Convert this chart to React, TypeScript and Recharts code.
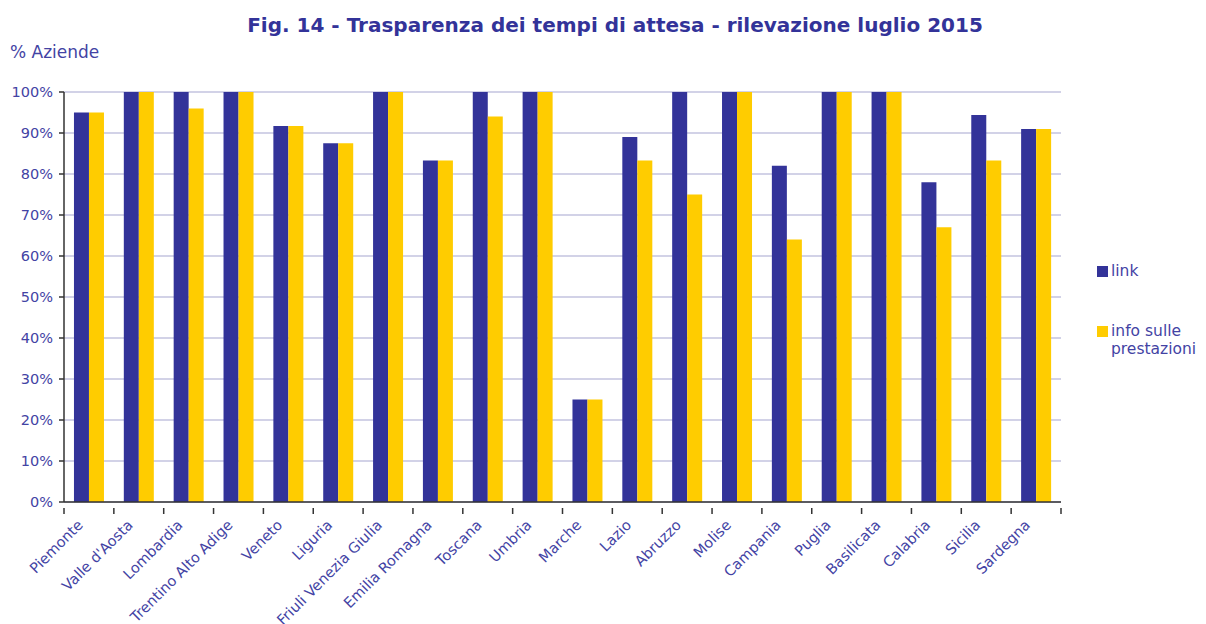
import React from 'react';
import { BarChart, Bar, XAxis, YAxis, CartesianGrid } from 'recharts';

const categories = [
  'Piemonte', "Valle d'Aosta", 'Lombardia', 'Trentino Alto Adige', 'Veneto', 'Liguria',
  'Friuli Venezia Giulia', 'Emilia Romagna', 'Toscana', 'Umbria', 'Marche', 'Lazio',
  'Abruzzo', 'Molise', 'Campania', 'Puglia', 'Basilicata', 'Calabria', 'Sicilia', 'Sardegna',
];
const linkValues = [95, 100, 100, 100, 91.7, 87.5, 100, 83.3, 100, 100, 25, 89, 100, 100, 82, 100, 100, 78, 94.4, 91];
const infoValues = [95, 100, 96, 100, 91.7, 87.5, 100, 83.3, 94, 100, 25, 83.3, 75, 100, 64, 100, 100, 67, 83.3, 91];
const yTicks = [0, 10, 20, 30, 40, 50, 60, 70, 80, 90, 100];
const seriesNames = ['link', 'info sulle prestazioni'];

const data = categories.map((name, i) => ({ name, link: linkValues[i], info: infoValues[i] }));

const TEXT = '#333399';
const TICKTEXT = '#4343a4';
const FONT = '"DejaVu Sans", Verdana, sans-serif';

const XTick = (props: any) => {
  const { x, y, payload, index, width, visibleTicksCount } = props;
  const step = width / visibleTicksCount;
  const left = x - step / 2;
  const tx = x - 5;
  const ty = y + 16;
  return (
    <g>
      <line x1={left} y1={y - 2} x2={left} y2={y + 4} stroke="#333" strokeWidth={1.5} />
      {index === visibleTicksCount - 1 && (
        <line x1={left + step} y1={y - 2} x2={left + step} y2={y + 4} stroke="#333" strokeWidth={1.5} />
      )}
      <text
        x={tx}
        y={ty}
        textAnchor="end"
        fill={TICKTEXT}
        fontSize={14.5}
        fontFamily={FONT}
        transform={`rotate(-45, ${tx}, ${ty})`}
      >
        {payload.value}
      </text>
    </g>
  );
};

export default function App() {
  return (
    <div style={{ position: 'absolute', left: 0, top: 0, width: 1206, height: 624, background: '#fff', fontFamily: FONT }}>
      <div style={{ position: 'absolute', left: 0, width: 1230, top: 13, textAlign: 'center', color: TEXT, fontWeight: 'bold', fontSize: 20, fontFamily: FONT }}>
        Fig. 14 - Trasparenza dei tempi di attesa - rilevazione luglio 2015
      </div>
      <div style={{ position: 'absolute', left: 10, top: 42, color: TICKTEXT, fontSize: 17, fontFamily: FONT }}>% Aziende</div>
      <div style={{ position: 'absolute', left: 1097, top: 262, color: TICKTEXT, fontSize: 15.5, fontFamily: FONT, lineHeight: '18px' }}>
        <div style={{ position: 'relative', paddingLeft: 14 }}>
          <span style={{ position: 'absolute', left: 0, top: 4, width: 11, height: 11, background: '#333399' }} />
          {seriesNames[0]}
        </div>
        <div style={{ position: 'relative', paddingLeft: 14, marginTop: 42, width: 110 }}>
          <span style={{ position: 'absolute', left: 0, top: 4, width: 11, height: 11, background: '#FFCC00' }} />
          info sulle<br />prestazioni
        </div>
      </div>
      <BarChart
        width={1206}
        height={624}
        data={data}
        margin={{ top: 92, right: 145, bottom: 10, left: 6 }}
        barCategoryGap="20%"
        barGap={0}
      >
        <CartesianGrid vertical={false} stroke="#a6a6cf" strokeWidth={1.2} />
        <XAxis
          dataKey="name"
          interval={0}
          tickLine={false}
          axisLine={{ stroke: '#333', strokeWidth: 1.5 }}
          tick={<XTick />}
          height={112}
        />
        <YAxis
          domain={[0, 100]}
          ticks={yTicks}
          tickFormatter={(v: number) => `${v}%`}
          width={58}
          tickSize={5}
          tickMargin={6}
          interval={0}
          axisLine={{ stroke: '#333', strokeWidth: 1.5 }}
          tickLine={{ stroke: '#333', strokeWidth: 1.5 }}
          tick={{ fill: TICKTEXT, fontSize: 14.5, fontFamily: FONT }}
        />
        <YAxis
          yAxisId="r"
          orientation="right"
          domain={[0, 100]}
          width={0}
          tick={false}
          tickLine={false}
          axisLine={{ stroke: '#c8c8dc', strokeWidth: 1.5 }}
        />
        <Bar dataKey="link" name={seriesNames[0]} fill="#333399" isAnimationActive={false} />
        <Bar dataKey="info" name={seriesNames[1]} fill="#FFCC00" isAnimationActive={false} />
      </BarChart>
    </div>
  );
}
